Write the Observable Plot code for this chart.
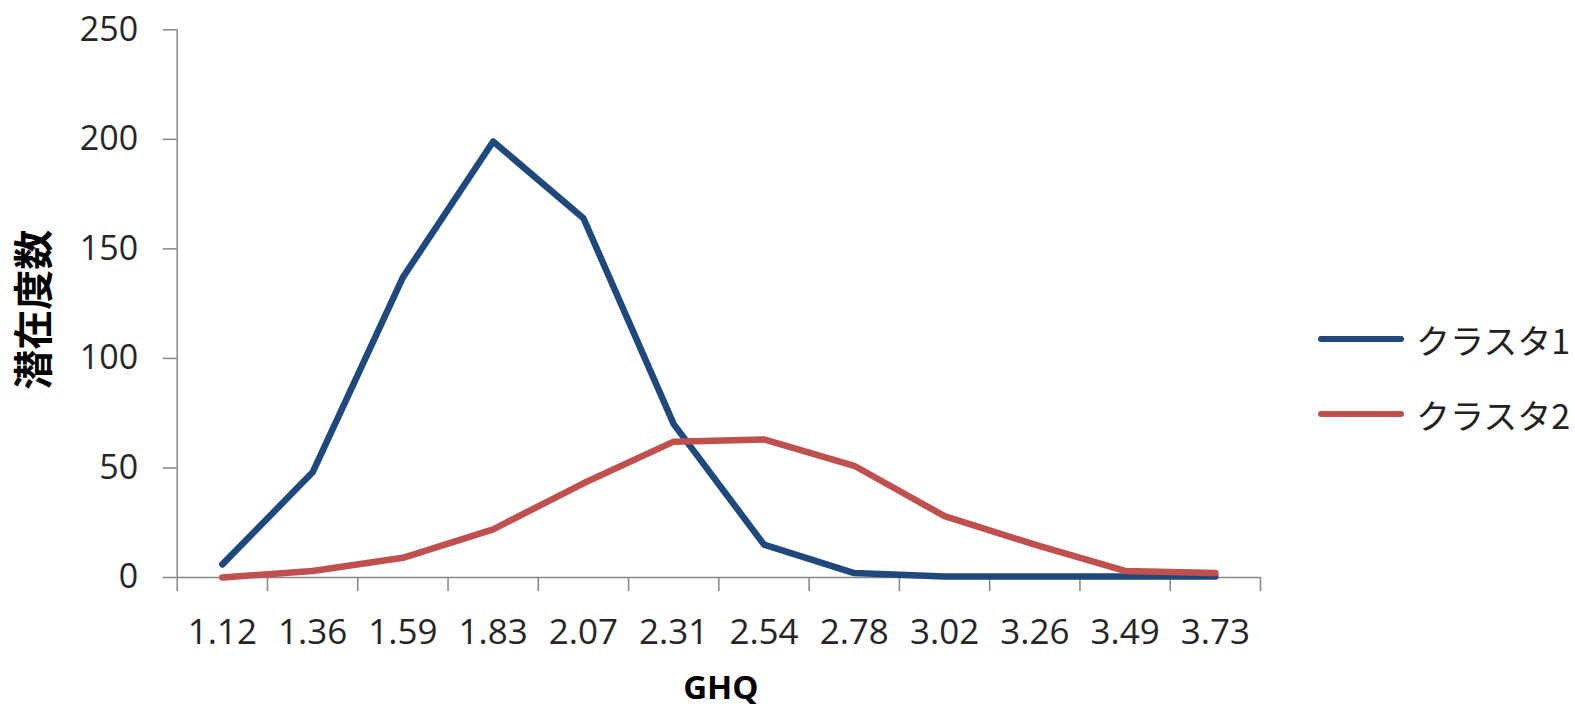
<!DOCTYPE html>
<html>
<head>
<meta charset="utf-8">
<script src="https://cdn.jsdelivr.net/npm/d3@7"></script>
<script src="https://cdn.jsdelivr.net/npm/@observablehq/plot@0.6"></script>
<style>
  html, body { margin: 0; padding: 0; background: #fff; }
  #wrap { position: relative; width: 1575px; height: 711px; overflow: hidden; }
  .leg { position: absolute; left: 1318px; height: 50px; display: flex; align-items: center;
         font-family: "Noto Sans CJK JP", "Open Sans", sans-serif; font-size: 34px; color: #222; }
  .leg .sw { display: inline-block; width: 86px; height: 6.5px; border-radius: 3px; margin-right: 12px; }
</style>
</head>
<body>
<div id="wrap"></div>
<script>
const categories = ["1.12","1.36","1.59","1.83","2.07","2.31","2.54","2.78","3.02","3.26","3.49","3.73"];
const seriesNames = ["クラスタ1", "クラスタ2"];
const cluster1 = [6, 48, 137, 199, 164, 70, 15, 2, 0.5, 0.5, 0.5, 0.5];
const cluster2 = [0, 3, 9, 22, 43, 62, 63, 51, 28, 15, 3, 2];
const yTicks = [0, 50, 100, 150, 200, 250];
const colors = ["#1F497D", "#C0504D"];
const xTitle = "GHQ";
const yTitle = "潜在度数";

const rows = [];
categories.forEach((c, i) => {
  rows.push({i, v: cluster1[i], s: seriesNames[0]});
  rows.push({i, v: cluster2[i], s: seriesNames[1]});
});

const boundaries = d3.range(categories.length + 1).map(k => k - 0.5);
const centers = d3.range(categories.length);

const chart = Plot.plot({
  width: 1575,
  height: 711,
  marginLeft: 176.7,
  marginRight: 1575 - 1260,
  marginTop: 29.3,
  marginBottom: 711 - 577,
  style: {fontFamily: "'Open Sans', 'Noto Sans CJK JP', sans-serif", fontSize: "34px", background: "#fff", overflow: "visible"},
  x: {type: "linear", domain: [-0.5, categories.length - 0.5]},
  y: {domain: [0, 250]},
  color: {domain: seriesNames, range: colors},
  marks: [
    Plot.axisY({ticks: yTicks, tickSize: 14, tickPadding: 25, stroke: "#868686", strokeWidth: 1.5, fill: "#262626", fontSize: 34, label: null}),
    Plot.axisX({ticks: boundaries, tickSize: 14, tickFormat: () => "", stroke: "#868686", strokeWidth: 1.5, label: null}),
    Plot.axisX({ticks: centers, tickSize: 0, tickPadding: 42, tickFormat: i => categories[i], fill: "#262626", fontSize: 35, label: null}),
    Plot.ruleY([0], {stroke: "#868686", strokeWidth: 1.5}),
    Plot.ruleX([-0.5], {y1: 0, y2: 250, stroke: "#868686", strokeWidth: 1.5}),
    Plot.line(rows, {x: "i", y: "v", z: "s", stroke: "s", strokeWidth: 6.5, strokeLinecap: "round", strokeLinejoin: "round"}),
    Plot.text([yTitle], {frameAnchor: "left", textAnchor: "middle", rotate: -90, dx: -142, dy: 6, fontSize: 40, fontWeight: "bold", fill: "#000", fontFamily: "'Noto Sans CJK JP', sans-serif"}),
    Plot.text([xTitle], {frameAnchor: "bottom", dx: 2, dy: 121, fontSize: 33, fontWeight: "bold", fill: "#000"})
  ]
});

const wrap = document.getElementById("wrap");
wrap.appendChild(chart);

const legendY = [339, 414];
seriesNames.forEach((name, k) => {
  const d = document.createElement("div");
  d.className = "leg";
  d.style.top = (legendY[k] - 25) + "px";
  const sw = document.createElement("span");
  sw.className = "sw";
  sw.style.background = colors[k];
  const t = document.createElement("span");
  t.textContent = name;
  d.appendChild(sw);
  d.appendChild(t);
  wrap.appendChild(d);
});
</script>
</body>
</html>
